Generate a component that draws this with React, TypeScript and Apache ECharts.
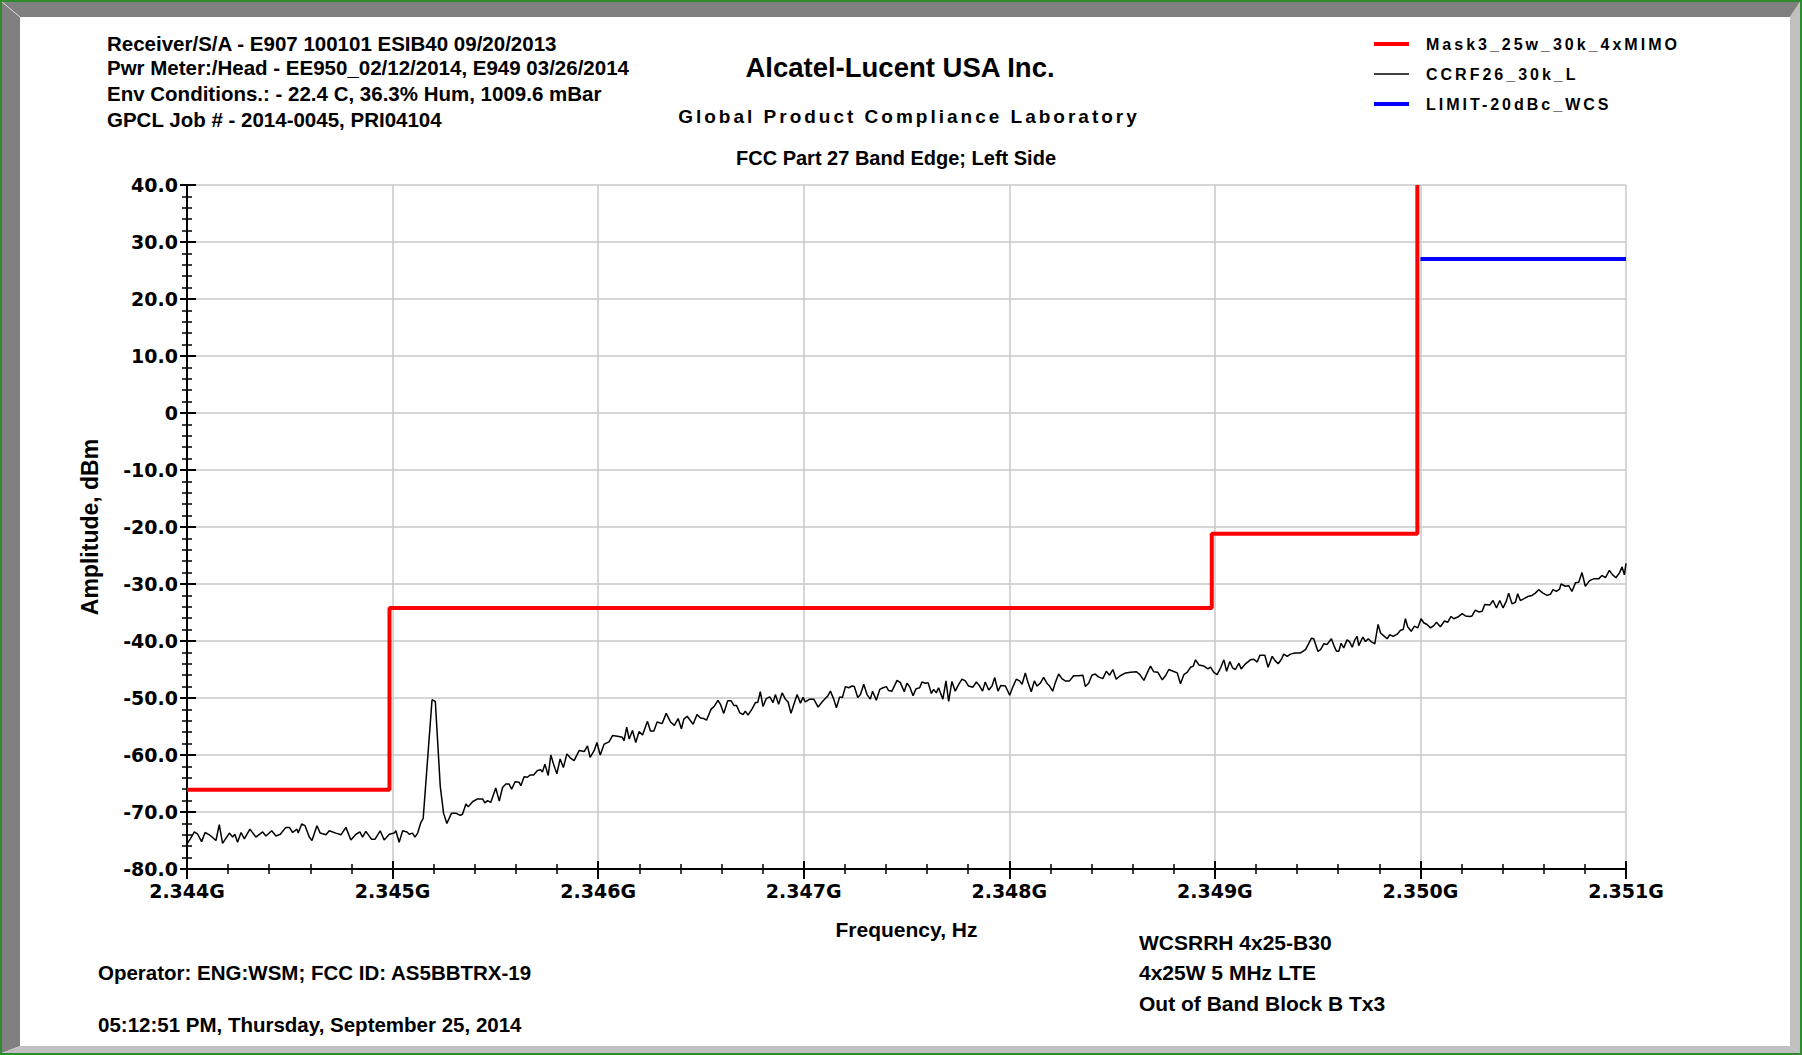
import React, { useEffect, useRef } from "react";
import * as echarts from "echarts";

// Sweep span (MHz)
const START_MHZ = 2344;
const STOP_MHZ = 2351;

// Measured trace: frequency offset from START_MHZ (MHz) and amplitude (dBm)
const traceOffsetMHz = [
  0.0, 0.016, 0.036, 0.052, 0.071, 0.088, 0.109, 0.141, 0.157, 0.173, 0.206, 0.222, 0.233, 0.246, 0.263, 0.279,
  0.306, 0.335, 0.368, 0.384, 0.412, 0.433, 0.454, 0.481, 0.498, 0.514, 0.535, 0.541, 0.558, 0.574, 0.595, 0.608,
  0.632, 0.648, 0.676, 0.692, 0.724, 0.749, 0.773, 0.797, 0.822, 0.841, 0.854, 0.87, 0.898, 0.914, 0.94, 0.959,
  0.984, 1.008, 1.016, 1.032, 1.049, 1.07, 1.081, 1.097, 1.109, 1.122, 1.138, 1.149, 1.192, 1.208, 1.232, 1.248,
  1.264, 1.287, 1.308, 1.329, 1.34, 1.357, 1.368, 1.389, 1.413, 1.438, 1.449, 1.462, 1.478, 1.502, 1.519, 1.535,
  1.551, 1.567, 1.579, 1.596, 1.616, 1.624, 1.64, 1.656, 1.669, 1.686, 1.705, 1.721, 1.729, 1.741, 1.757, 1.77,
  1.783, 1.799, 1.815, 1.831, 1.848, 1.864, 1.883, 1.908, 1.932, 1.948, 1.961, 1.981, 1.994, 2.01, 2.029, 2.053,
  2.07, 2.094, 2.118, 2.126, 2.139, 2.151, 2.167, 2.183, 2.199, 2.216, 2.24, 2.2545, 2.271, 2.287, 2.311, 2.331,
  2.352, 2.371, 2.389, 2.405, 2.417, 2.433, 2.462, 2.481, 2.498, 2.514, 2.527, 2.549, 2.566, 2.583, 2.595, 2.611,
  2.63, 2.647, 2.66, 2.673, 2.689, 2.705, 2.716, 2.729, 2.749, 2.765, 2.776, 2.789, 2.802, 2.818, 2.835, 2.851,
  2.862, 2.878, 2.895, 2.911, 2.924, 2.938, 2.955, 2.968, 2.984, 2.997, 3.008, 3.029, 3.049, 3.07, 3.089, 3.105,
  3.118, 3.13, 3.146, 3.159, 3.175, 3.188, 3.203, 3.219, 3.235, 3.246, 3.263, 3.276, 3.292, 3.308, 3.324, 3.335,
  3.353, 3.37, 3.386, 3.402, 3.413, 3.429, 3.454, 3.47, 3.489, 3.502, 3.515, 3.532, 3.546, 3.564, 3.575, 3.592,
  3.605, 3.621, 3.632, 3.645, 3.656, 3.665, 3.677, 3.692, 3.705, 3.721, 3.737, 3.754, 3.77, 3.786, 3.802, 3.823,
  3.84, 3.856, 3.87, 3.883, 3.9, 3.916, 3.929, 3.945, 3.959, 3.981, 4.002, 4.018, 4.034, 4.05, 4.062, 4.078,
  4.091, 4.107, 4.122, 4.135, 4.151, 4.167, 4.183, 4.196, 4.211, 4.224, 4.24, 4.256, 4.272, 4.293, 4.313, 4.337,
  4.358, 4.37, 4.386, 4.402, 4.418, 4.434, 4.455, 4.472, 4.488, 4.504, 4.52, 4.54, 4.566, 4.59, 4.619, 4.635,
  4.655, 4.671, 4.687, 4.703, 4.723, 4.744, 4.76, 4.776, 4.797, 4.817, 4.833, 4.849, 4.865, 4.882, 4.895, 4.906,
  4.922, 4.947, 4.966, 4.979, 4.995, 5.011, 5.028, 5.044, 5.057, 5.073, 5.086, 5.1, 5.117, 5.128, 5.149, 5.173,
  5.19, 5.206, 5.219, 5.243, 5.259, 5.279, 5.292, 5.308, 5.324, 5.335, 5.352, 5.368, 5.389, 5.417, 5.441, 5.457,
  5.47, 5.481, 5.501, 5.514, 5.53, 5.546, 5.567, 5.579, 5.592, 5.603, 5.614, 5.627, 5.643, 5.655, 5.668, 5.681,
  5.692, 5.7, 5.72, 5.733, 5.746, 5.76, 5.778, 5.794, 5.806, 5.822, 5.838, 5.851, 5.867, 5.887, 5.903, 5.916,
  5.927, 5.938, 5.955, 5.971, 5.987, 6.003, 6.016, 6.032, 6.049, 6.065, 6.078, 6.097, 6.117, 6.133, 6.149, 6.162,
  6.182, 6.203, 6.219, 6.24, 6.251, 6.267, 6.284, 6.3, 6.313, 6.337, 6.353, 6.37, 6.386, 6.402, 6.418, 6.429,
  6.446, 6.462, 6.473, 6.486, 6.502, 6.522, 6.543, 6.559, 6.575, 6.596, 6.616, 6.632, 6.645, 6.661, 6.677, 6.684,
  6.705, 6.721, 6.737, 6.754, 6.77, 6.786, 6.802, 6.823, 6.843, 6.867, 6.883, 6.9, 6.919, 6.935, 6.951, 6.969,
  6.981, 6.992, 7.0,
];

const traceDbm = [
  -75.6, -74.7, -73.5, -73.9, -75.2, -73.6, -74.0, -75.0, -72.2, -75.5, -73.7, -74.4, -73.9, -75.3, -73.6, -74.7,
  -73.0, -74.4, -73.5, -74.2, -73.3, -74.2, -73.9, -72.7, -72.7, -73.6, -73.0, -73.7, -72.1, -72.4, -74.4, -75.0,
  -72.4, -73.7, -74.0, -73.3, -73.7, -74.0, -72.7, -74.9, -73.9, -73.5, -74.4, -73.4, -74.8, -74.8, -73.3, -74.9,
  -73.9, -73.7, -73.3, -75.3, -73.3, -73.5, -73.9, -73.7, -74.4, -73.7, -71.8, -71.1, -50.3, -50.6, -65.5, -70.2,
  -72.0, -70.2, -70.2, -70.6, -70.4, -68.6, -69.1, -68.2, -67.7, -67.7, -68.4, -68.0, -68.3, -65.8, -68.1, -65.7,
  -65.1, -65.1, -66.0, -64.7, -64.8, -65.4, -63.8, -63.9, -63.5, -63.5, -62.7, -62.6, -63.0, -61.6, -63.6, -60.0,
  -61.6, -63.3, -60.7, -62.2, -59.8, -60.5, -61.0, -59.2, -59.4, -58.4, -60.4, -59.2, -57.8, -60.0, -58.1, -57.7,
  -56.6, -56.7, -56.9, -57.5, -55.1, -57.2, -55.7, -57.8, -55.9, -56.5, -54.1, -55.8, -55.8, -54.2, -54.5, -52.7,
  -54.2, -54.8, -53.6, -55.4, -53.7, -53.2, -54.6, -52.9, -53.5, -53.6, -53.9, -52.0, -51.4, -50.4, -51.1, -52.7,
  -50.5, -50.5, -51.3, -51.3, -52.6, -52.9, -52.3, -53.0, -51.9, -50.8, -50.8, -48.9, -51.5, -50.1, -49.8, -50.8,
  -49.4, -51.1, -49.1, -50.2, -50.7, -52.7, -50.8, -49.4, -50.9, -49.9, -50.7, -50.2, -50.2, -51.6, -50.7, -50.1,
  -49.6, -48.8, -50.2, -51.7, -49.8, -49.9, -48.0, -48.2, -47.9, -48.0, -49.9, -49.4, -47.6, -49.4, -50.2, -48.8,
  -50.4, -48.5, -48.2, -48.0, -48.7, -48.8, -46.9, -47.3, -48.9, -47.4, -48.0, -49.6, -48.4, -48.2, -47.2, -47.4,
  -47.3, -49.2, -48.5, -49.1, -48.2, -49.1, -50.2, -47.0, -50.6, -47.1, -48.8, -47.6, -46.7, -47.0, -47.9, -48.1,
  -47.2, -47.9, -48.8, -47.2, -48.6, -47.9, -46.4, -48.8, -47.8, -47.9, -49.5, -48.0, -46.7, -47.0, -47.6, -45.6,
  -47.3, -48.9, -47.0, -47.9, -47.4, -46.4, -47.4, -47.9, -48.8, -47.3, -45.8, -46.6, -47.0, -47.0, -46.1, -46.1,
  -46.0, -48.0, -47.4, -46.0, -45.8, -46.3, -46.6, -45.3, -46.0, -45.0, -46.7, -46.1, -45.6, -45.5, -45.4, -45.9,
  -46.9, -45.6, -44.4, -45.4, -45.5, -46.8, -46.1, -45.0, -45.3, -45.6, -47.5, -45.9, -45.5, -44.6, -44.4, -43.3,
  -44.2, -44.4, -44.9, -44.6, -45.5, -45.9, -44.7, -43.3, -45.3, -43.6, -44.7, -45.0, -43.9, -44.9, -44.0, -43.3,
  -43.2, -43.7, -42.5, -42.5, -44.6, -42.7, -43.4, -44.0, -43.2, -42.3, -42.7, -42.3, -42.1, -42.1, -41.5, -40.4,
  -39.5, -39.6, -41.8, -41.5, -40.5, -40.6, -39.6, -40.8, -41.8, -41.8, -40.4, -41.2, -39.8, -40.1, -41.1, -39.8,
  -39.2, -40.8, -39.3, -40.1, -39.6, -40.1, -40.5, -37.1, -38.6, -39.1, -39.6, -38.9, -39.2, -38.8, -38.1, -38.0,
  -36.1, -37.5, -38.3, -37.4, -37.7, -36.1, -36.8, -37.1, -37.7, -37.3, -36.7, -37.5, -36.5, -36.7, -35.7, -36.1,
  -35.8, -35.2, -35.6, -35.7, -35.6, -34.6, -34.9, -34.8, -33.6, -33.7, -32.9, -34.2, -32.9, -34.2, -33.0, -31.6,
  -33.5, -33.2, -31.7, -32.9, -32.6, -32.2, -32.0, -31.6, -31.0, -31.6, -32.0, -31.8, -31.0, -31.3, -30.9, -30.0,
  -30.4, -30.3, -31.3, -29.8, -29.7, -28.0, -30.4, -29.4, -29.1, -29.1, -28.5, -28.9, -27.6, -28.4, -28.9, -28.0,
  -27.0, -28.4, -26.4,
];

// Emission mask: break frequencies (MHz) and the level from each break onward (dBm)
const maskEdgesMHz = [2344, 2344.985, 2348.985, 2349.985];
const maskDbm = [-66.1, -34.2, -21.2, 40];

// -20 dBc limit line
const limitMHz = [2350, 2351];
const limitDbm = [27.0, 27.0];

const seriesNames = ["Mask3_25w_30k_4xMIMO", "CCRF26_30k_L", "LIMIT-20dBc_WCS"];
const seriesColors = ["#ff0000", "#000000", "#0000ff"];
const seriesWidths = [4, 1.5, 4];

const Y_MIN = -80;
const Y_MAX = 40;
const Y_STEP = 10;

const headerLines = [
  "Receiver/S/A - E907 100101 ESIB40 09/20/2013",
  "Pwr Meter:/Head - EE950_02/12/2014, E949 03/26/2014",
  "Env Conditions.: - 22.4 C, 36.3% Hum, 1009.6 mBar",
  "GPCL Job # - 2014-0045, PRI04104",
];
const titleMain = "Alcatel-Lucent USA Inc.";
const titleLab = "Global Product Compliance Laboratory";
const titleTest = "FCC Part 27 Band Edge; Left Side";
const operatorLine = "Operator: ENG:WSM; FCC ID: AS5BBTRX-19";
const timestampLine = "05:12:51 PM, Thursday, September 25, 2014";
const deviceLines = ["WCSRRH 4x25-B30", "4x25W 5 MHz LTE", "Out of Band Block B Tx3"];

const SANS = "'Liberation Sans', Arial, sans-serif";
const WIDE = "'DejaVu Sans', Verdana, sans-serif";

// extra tracking for the spaced-out captions
const trackedText: Record<string, string> = {
  [titleLab]: "3px",
  [seriesNames[0]]: "3px",
  [seriesNames[1]]: "3px",
  [seriesNames[2]]: "3px",
};

function buildOption(): echarts.EChartsOption {
  const trace = traceOffsetMHz.map((d, i) => [START_MHZ + d, traceDbm[i]]);
  const mask = maskEdgesMHz.map((f, i) => [f, maskDbm[i]]);
  const limit = limitMHz.map((f, i) => [f, limitDbm[i]]);

  const text = (t: string, x: number, y: number, size: number, align = "left", family = SANS) => ({
    type: "text",
    x,
    y,
    silent: true,
    style: {
      text: t,
      fill: "#000",
      font: `bold ${size}px ${family}`,
      textAlign: align,
      textVerticalAlign: "middle",
    },
  });

  const grid = { left: 187, top: 185, width: 1439, height: 684 };

  const xBase = {
    type: "value" as const,
    min: START_MHZ,
    max: STOP_MHZ,
    interval: 1,
    position: "bottom" as const,
  };
  const yBase = {
    type: "value" as const,
    min: Y_MIN,
    max: Y_MAX,
    interval: Y_STEP,
    position: "left" as const,
  };

  return {
    animation: false,
    backgroundColor: "#ffffff",
    grid,
    legend: {
      orient: "vertical",
      left: 1367,
      top: 31,
      itemWidth: 35,
      itemHeight: 16,
      itemGap: 14,
      data: seriesNames.map((name, i) => ({
        name,
        lineStyle: { color: seriesColors[i], width: seriesWidths[i] },
      })),
      itemStyle: { opacity: 0 },
      textStyle: {
        color: "#000",
        fontFamily: SANS,
        fontWeight: "bold",
        fontSize: 16,
        padding: [0, 0, 0, 12],
      },
    },
    xAxis: [
      {
        ...xBase,
        axisLine: { show: true, onZero: false, lineStyle: { color: "#000", width: 2 } },
        axisTick: { show: true, inside: false, length: 10, lineStyle: { color: "#000", width: 2 } },
        minorTick: { show: true, splitNumber: 5, length: 5, lineStyle: { color: "#000", width: 1.5 } },
        axisLabel: {
          margin: 12,
          color: "#000",
          fontFamily: WIDE,
          fontWeight: "bold",
          fontSize: 19,
          formatter: (v: number) => `${(v / 1000).toFixed(3)}G`,
        },
        splitLine: { show: true, lineStyle: { color: "#c8c8c8", width: 1.5 } },
        name: "Frequency, Hz",
        nameLocation: "middle",
        nameGap: 50,
        nameTextStyle: { color: "#000", fontFamily: SANS, fontWeight: "bold", fontSize: 21 },
      },
      {
        ...xBase,
        axisLine: { show: false, onZero: false },
        axisTick: { show: true, inside: true, length: 8, lineStyle: { color: "#000", width: 2 } },
        minorTick: { show: true, splitNumber: 5, length: 5, lineStyle: { color: "#000", width: 1.5 } },
        axisLabel: { show: false },
        splitLine: { show: false },
      },
    ],
    yAxis: [
      {
        ...yBase,
        axisLine: { show: true, onZero: false, lineStyle: { color: "#000", width: 2 } },
        axisTick: { show: true, inside: false, length: 7, lineStyle: { color: "#000", width: 2 } },
        minorTick: { show: true, splitNumber: 5, length: 5, lineStyle: { color: "#000", width: 1.5 } },
        axisLabel: {
          margin: 9,
          color: "#000",
          fontFamily: WIDE,
          fontWeight: "bold",
          fontSize: 19,
          formatter: (v: number) => (v === 0 ? "0" : v.toFixed(1)),
        },
        splitLine: { show: true, lineStyle: { color: "#c8c8c8", width: 1.5 } },
        name: "Amplitude, dBm",
        nameLocation: "middle",
        nameGap: 86,
        nameTextStyle: { color: "#000", fontFamily: SANS, fontWeight: "bold", fontSize: 23 },
      },
      {
        ...yBase,
        axisLine: { show: false, onZero: false },
        axisTick: { show: true, inside: true, length: 9, lineStyle: { color: "#000", width: 2 } },
        minorTick: { show: true, splitNumber: 5, length: 5, lineStyle: { color: "#000", width: 1.5 } },
        axisLabel: { show: false },
        splitLine: { show: false },
      },
    ],
    series: [
      {
        name: seriesNames[0],
        type: "line",
        step: "end",
        data: mask,
        showSymbol: false,
        symbol: "none",
        color: seriesColors[0],
        lineStyle: { color: seriesColors[0], width: seriesWidths[0] },
        z: 3,
      },
      {
        name: seriesNames[1],
        type: "line",
        data: trace,
        showSymbol: false,
        symbol: "none",
        color: seriesColors[1],
        lineStyle: { color: seriesColors[1], width: seriesWidths[1] },
        z: 4,
      },
      {
        name: seriesNames[2],
        type: "line",
        data: limit,
        showSymbol: false,
        symbol: "none",
        color: seriesColors[2],
        lineStyle: { color: seriesColors[2], width: seriesWidths[2] },
        z: 3,
      },
    ],
    graphic: [
      // window frame: green hairline with a bevelled grey border
      {
        type: "rect",
        silent: true,
        z: -1,
        shape: { x: 1, y: 1, width: 1800, height: 1053 },
        style: { fill: "none", stroke: "#2e8b2e", lineWidth: 2 },
      },
      {
        type: "polygon",
        silent: true,
        shape: { points: [[2, 2], [1800, 2], [1790, 17], [20, 17]] },
        style: { fill: "#808080" },
      },
      {
        type: "polygon",
        silent: true,
        shape: { points: [[2, 2], [20, 17], [20, 1046], [2, 1053]] },
        style: { fill: "#808080" },
      },
      {
        type: "polygon",
        silent: true,
        shape: { points: [[1800, 2], [1800, 1053], [1790, 1046], [1790, 17]] },
        style: { fill: "#c0c0c0" },
      },
      {
        type: "polygon",
        silent: true,
        shape: { points: [[2, 1053], [1800, 1053], [1790, 1046], [20, 1046]] },
        style: { fill: "#c0c0c0" },
      },
      {
        type: "line",
        silent: true,
        shape: { x1: 2, y1: 2, x2: 20, y2: 17 },
        style: { stroke: "#d8d8d8", lineWidth: 1 },
      },
      ...headerLines.map((t, i) => text(t, 107, [43.7, 67.8, 93.1, 119.5][i], 20.5)),
      text(titleMain, 900, 67, 27.5, "center"),
      text(titleLab, 909, 116, 19, "center"),
      text(titleTest, 896, 157.5, 20, "center"),
      text(operatorLine, 98, 972, 20.5),
      text(timestampLine, 98, 1024, 20.5),
      ...deviceLines.map((t, i) => text(t, 1139, [942, 972, 1003][i], 21)),
    ],
  } as echarts.EChartsOption;
}

export default function App() {
  const ref = useRef<HTMLDivElement>(null);

  useEffect(() => {
    document.body.style.margin = "0";
    if (!ref.current) return;
    const chart = echarts.init(ref.current, undefined, { renderer: "svg" });
    chart.setOption(buildOption());

    const applyTracking = () => {
      ref.current?.querySelectorAll("text").forEach((el) => {
        const spacing = trackedText[(el.textContent || "").trim()];
        if (spacing) el.style.letterSpacing = spacing;
      });
    };
    applyTracking();
    chart.on("finished", applyTracking);

    return () => {
      chart.dispose();
    };
  }, []);

  return <div ref={ref} style={{ width: 1802, height: 1055 }} />;
}
